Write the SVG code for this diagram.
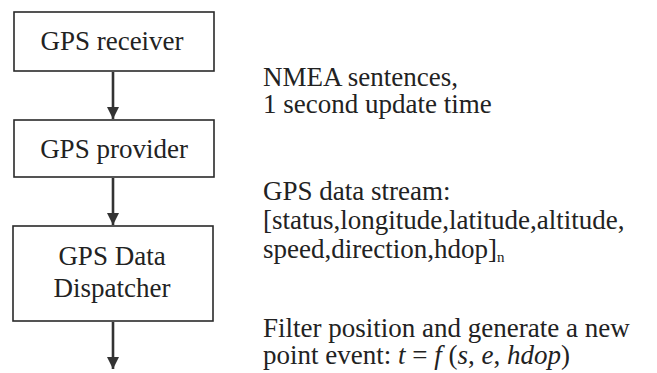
<svg xmlns="http://www.w3.org/2000/svg" width="657" height="373" viewBox="0 0 657 373">
<style>
.box{fill:#fff;stroke:#2a2a2a;stroke-width:1.6}
text{font-size:27px;fill:#222}
.c{text-anchor:middle}
.i{font-style:italic}
.edge{stroke:#333;stroke-width:2.6;fill:none}
</style>
<defs>
<marker id="ah" markerUnits="userSpaceOnUse" markerWidth="12" markerHeight="12" refX="10" refY="5" orient="auto" viewBox="0 0 10 10">
<path d="M0,0 L10,5 L0,10 Z" fill="#333"/>
</marker>
</defs>
<rect width="657" height="373" fill="#fff"/>
<g id="connectors">
<line class="edge" x1="113" y1="72" x2="113" y2="119" marker-end="url(#ah)"/>
<line class="edge" x1="113" y1="178" x2="113" y2="225" marker-end="url(#ah)"/>
<line class="edge" x1="113" y1="322" x2="113" y2="369" marker-end="url(#ah)"/>
</g>
<g id="gps-receiver">
<rect class="box" x="14" y="12" width="200" height="59"/>
<text class="c" x="112" y="50" font-family="Liberation Serif, serif">GPS receiver</text>
</g>
<g id="gps-provider">
<rect class="box" x="14" y="120" width="200" height="57"/>
<text class="c" x="114" y="158" font-family="Liberation Serif, serif">GPS provider</text>
</g>
<g id="gps-data-dispatcher">
<rect class="box" x="13" y="226" width="200" height="95"/>
<text class="c" x="112" y="265" font-family="Liberation Serif, serif">GPS Data</text>
<text class="c" x="112" y="297" font-family="Liberation Serif, serif">Dispatcher</text>
</g>
<g id="labels">
<text x="263" y="86" font-family="Liberation Serif, serif">NMEA sentences,</text>
<text x="263" y="113" font-family="Liberation Serif, serif">1 second update time</text>
<text x="263" y="200" font-family="Liberation Serif, serif">GPS data stream:</text>
<text x="263" y="229" font-family="Liberation Serif, serif">[status,longitude,latitude,altitude,</text>
<text x="263" y="258" font-family="Liberation Serif, serif">speed,direction,hdop]<tspan font-size="15" dy="4">n</tspan></text>
<text x="263" y="337" font-family="Liberation Serif, serif">Filter position and generate a  new</text>
<text x="263" y="364" font-family="Liberation Serif, serif">point event: <tspan class="i">t</tspan> = <tspan class="i">f</tspan> (<tspan class="i">s</tspan>, <tspan class="i">e</tspan>, <tspan class="i">hdop</tspan>)</text>
</g>
</svg>
